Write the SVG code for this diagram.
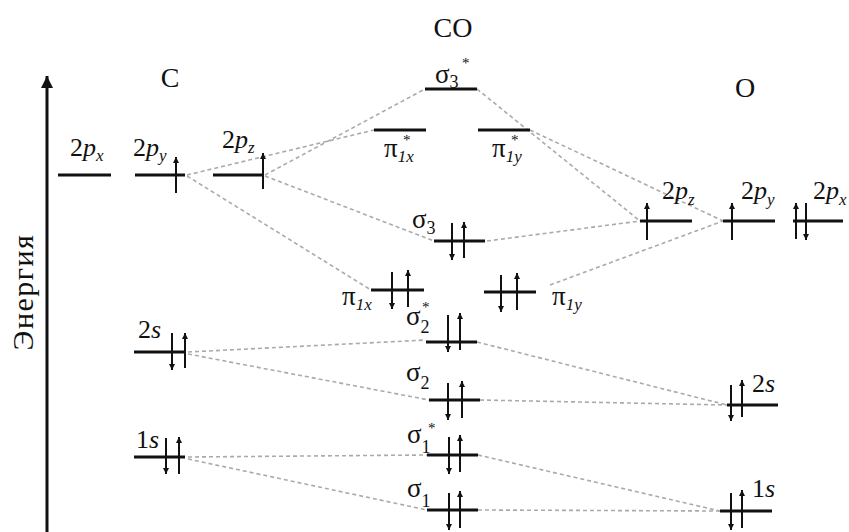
<svg xmlns="http://www.w3.org/2000/svg" width="849" height="532" viewBox="0 0 849 532">
<style>
.lvl{stroke:#111;stroke-width:3;fill:none}
.e{stroke:#111;stroke-width:2;fill:none;marker-end:url(#ah)}
.c{stroke:#aaa;stroke-width:1.6;stroke-dasharray:4 3;fill:none}
text{font-family:"Liberation Serif","Times New Roman",serif;fill:#111;font-size:26px}
.g{font-size:27px}
.big{font-size:28px}
.axl{font-size:30px;letter-spacing:1.5px}
.i{font-style:italic}
.s{font-size:17px;font-style:italic}
.sd{font-size:18px}
.st{font-size:15px}
</style>
<defs>
<marker id="ah" viewBox="0 0 10 10" refX="10" refY="5" markerWidth="8" markerHeight="6" markerUnits="userSpaceOnUse" orient="auto"><path d="M0,0 L10,5 L0,10 z" fill="#111"/></marker>
<marker id="big" viewBox="0 0 10 10" refX="10" refY="5" markerWidth="18" markerHeight="12" markerUnits="userSpaceOnUse" orient="auto"><path d="M0,0 L10,5 L0,10 z" fill="#111"/></marker>
</defs>
<rect width="849" height="532" fill="#fff"/>

<g id="axis">
<line x1="47" y1="532" x2="47" y2="76" stroke="#111" stroke-width="3" marker-end="url(#big)"/>
<text class="axl" x="0" y="0" transform="translate(33,292) rotate(-90)" text-anchor="middle">Энергия</text>
</g>

<g id="titles">
<text class="big" x="170" y="87" text-anchor="middle">C</text>
<text class="big" x="453" y="37" text-anchor="middle">CO</text>
<text class="big" x="745" y="97" text-anchor="middle">O</text>
</g>

<g id="connectors">
<line class="c" x1="187" y1="175" x2="374" y2="130"/>
<line class="c" x1="265" y1="175" x2="425" y2="89"/>
<line class="c" x1="187" y1="176" x2="371" y2="290"/>
<line class="c" x1="265" y1="176" x2="434" y2="241"/>
<line class="c" x1="477" y1="89" x2="640" y2="221"/>
<line class="c" x1="530" y1="130" x2="723" y2="221"/>
<line class="c" x1="487" y1="241" x2="640" y2="221"/>
<line class="c" x1="550" y1="285" x2="723" y2="221"/>
<line class="c" x1="188" y1="352" x2="426" y2="340"/>
<line class="c" x1="188" y1="354" x2="429" y2="400"/>
<line class="c" x1="477" y1="342" x2="727" y2="405"/>
<line class="c" x1="480" y1="400" x2="727" y2="405"/>
<line class="c" x1="188" y1="457" x2="427" y2="455"/>
<line class="c" x1="188" y1="459" x2="427" y2="510"/>
<line class="c" x1="478" y1="455" x2="720" y2="511"/>
<line class="c" x1="478" y1="510" x2="720" y2="511"/>
</g>

<g id="C-2px">
<line class="lvl" x1="58" y1="175" x2="111" y2="175"/>
<text x="70" y="156">2<tspan class="i">p</tspan><tspan class="s" dy="5">x</tspan></text>
</g>
<g id="C-2py">
<line class="lvl" x1="135" y1="175" x2="185" y2="175"/>
<line class="e" x1="176" y1="193" x2="176" y2="157"/>
<text x="133" y="156">2<tspan class="i">p</tspan><tspan class="s" dy="5">y</tspan></text>
</g>
<g id="C-2pz">
<line class="lvl" x1="213" y1="175" x2="263" y2="175"/>
<line class="e" x1="263" y1="189" x2="263" y2="153"/>
<text x="222" y="148">2<tspan class="i">p</tspan><tspan class="s" dy="5">z</tspan></text>
</g>
<g id="C-2s">
<line class="lvl" x1="134" y1="352" x2="185" y2="352"/>
<line class="e" x1="172" y1="333" x2="172" y2="370"/>
<line class="e" x1="185" y1="368" x2="185" y2="333"/>
<text x="138" y="338">2<tspan class="i">s</tspan></text>
</g>
<g id="C-1s">
<line class="lvl" x1="134" y1="457" x2="185" y2="457"/>
<line class="e" x1="166" y1="438" x2="166" y2="474"/>
<line class="e" x1="179" y1="474" x2="179" y2="437"/>
<text x="136" y="448">1<tspan class="i">s</tspan></text>
</g>

<g id="CO-sigma3star">
<line class="lvl" x1="425" y1="89" x2="477" y2="89"/>
<text class="g" x="435" y="83">σ<tspan class="sd" dy="5">3</tspan><tspan class="st" x="462" y="68">*</tspan></text>
</g>
<g id="CO-pi1xstar">
<line class="lvl" x1="374" y1="130" x2="426" y2="130"/>
<text class="g" x="384" y="157">π<tspan class="s" dy="5">1x</tspan><tspan class="st" x="403" y="145">*</tspan></text>
</g>
<g id="CO-pi1ystar">
<line class="lvl" x1="478" y1="130" x2="530" y2="130"/>
<text class="g" x="492" y="157">π<tspan class="s" dy="5">1y</tspan><tspan class="st" x="511" y="145">*</tspan></text>
</g>
<g id="CO-sigma3">
<line class="lvl" x1="434" y1="241" x2="485" y2="241"/>
<line class="e" x1="452" y1="223" x2="452" y2="260"/>
<line class="e" x1="464" y1="258" x2="464" y2="222"/>
<text class="g" x="412" y="228">σ<tspan class="sd" dy="6">3</tspan></text>
</g>
<g id="CO-pi1x">
<line class="lvl" x1="371" y1="290" x2="424" y2="290"/>
<line class="e" x1="392" y1="272" x2="392" y2="309"/>
<line class="e" x1="408" y1="307" x2="408" y2="270"/>
<text class="g" x="342" y="305">π<tspan class="s" dy="5">1x</tspan></text>
</g>
<g id="CO-pi1y">
<line class="lvl" x1="484" y1="292" x2="536" y2="292"/>
<line class="e" x1="501" y1="275" x2="501" y2="312"/>
<line class="e" x1="517" y1="310" x2="517" y2="273"/>
<text class="g" x="552" y="305">π<tspan class="s" dy="5">1y</tspan></text>
</g>
<g id="CO-sigma2star">
<line class="lvl" x1="426" y1="342" x2="477" y2="342"/>
<line class="e" x1="448" y1="315" x2="448" y2="352"/>
<line class="e" x1="460" y1="350" x2="460" y2="313"/>
<text class="g" x="406" y="325">σ<tspan class="sd" dy="8">2</tspan><tspan class="st" x="422" y="312">*</tspan></text>
</g>
<g id="CO-sigma2">
<line class="lvl" x1="429" y1="400" x2="480" y2="400"/>
<line class="e" x1="448" y1="383" x2="448" y2="420"/>
<line class="e" x1="462" y1="418" x2="462" y2="381"/>
<text class="g" x="406" y="381">σ<tspan class="sd" dy="8">2</tspan></text>
</g>
<g id="CO-sigma1star">
<line class="lvl" x1="427" y1="455" x2="478" y2="455"/>
<line class="e" x1="449" y1="437" x2="449" y2="474"/>
<line class="e" x1="460" y1="472" x2="460" y2="435"/>
<text class="g" x="407" y="443">σ<tspan class="sd" dy="10">1</tspan><tspan class="st" x="428" y="433">*</tspan></text>
</g>
<g id="CO-sigma1">
<line class="lvl" x1="427" y1="510" x2="478" y2="510"/>
<line class="e" x1="449" y1="493" x2="449" y2="530"/>
<line class="e" x1="460" y1="528" x2="460" y2="491"/>
<text class="g" x="407" y="497">σ<tspan class="sd" dy="10">1</tspan></text>
</g>

<g id="O-2pz">
<line class="lvl" x1="640" y1="221" x2="692" y2="221"/>
<line class="e" x1="647" y1="240" x2="647" y2="203"/>
<text x="662" y="199">2<tspan class="i">p</tspan><tspan class="s" dy="6">z</tspan></text>
</g>
<g id="O-2py">
<line class="lvl" x1="723" y1="221" x2="775" y2="221"/>
<line class="e" x1="732" y1="240" x2="732" y2="203"/>
<text x="741" y="199">2<tspan class="i">p</tspan><tspan class="s" dy="6">y</tspan></text>
</g>
<g id="O-2px">
<line class="lvl" x1="793" y1="221" x2="843" y2="221"/>
<line class="e" x1="796" y1="239" x2="796" y2="203"/>
<line class="e" x1="806" y1="203" x2="806" y2="240"/>
<text x="813" y="199">2<tspan class="i">p</tspan><tspan class="s" dy="6">x</tspan></text>
</g>
<g id="O-2s">
<line class="lvl" x1="727" y1="405" x2="778" y2="405"/>
<line class="e" x1="731" y1="385" x2="731" y2="421"/>
<line class="e" x1="742" y1="417" x2="742" y2="380"/>
<text x="752" y="392">2<tspan class="i">s</tspan></text>
</g>
<g id="O-1s">
<line class="lvl" x1="720" y1="511" x2="772" y2="511"/>
<line class="e" x1="731" y1="493" x2="731" y2="530"/>
<line class="e" x1="742" y1="528" x2="742" y2="490"/>
<text x="752" y="497">1<tspan class="i">s</tspan></text>
</g>
</svg>
